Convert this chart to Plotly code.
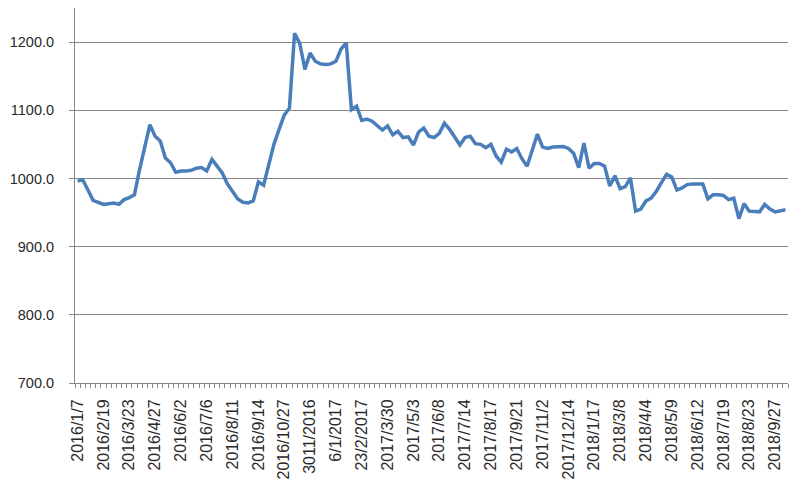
import plotly.graph_objects as go

# Weekly price series (138 points)
values = [
    996, 998, 983, 968, 965, 962, 963, 964, 962, 969,
    972, 976, 1013, 1047, 1079, 1062, 1055, 1030, 1023, 1009,
    1011, 1011, 1012, 1015, 1016, 1011, 1028, 1018, 1008, 992,
    982, 970, 965, 964, 967, 995, 990, 1022, 1050, 1072,
    1093, 1103, 1213, 1198, 1160, 1184, 1172, 1168, 1167, 1168,
    1172, 1190, 1199, 1101, 1106, 1085, 1087, 1084, 1078, 1071,
    1077, 1064, 1069, 1060, 1061, 1049, 1068, 1074, 1062, 1060,
    1066, 1081, 1072, 1061, 1049, 1060, 1062, 1051, 1050, 1045,
    1050, 1033, 1024, 1043, 1039, 1044, 1029, 1018, 1042, 1065,
    1046, 1044, 1046, 1047, 1047, 1044, 1037, 1016, 1052, 1015,
    1022, 1022, 1018, 989, 1004, 985, 988, 1001, 952, 955,
    967, 971, 981, 994, 1006, 1002, 983, 986, 991, 992,
    992, 992, 970, 976, 976, 975, 969, 971, 941, 963,
    952, 951, 951, 962, 955, 951, 953, 954,
]

# Tick labels shown every 5th point (as printed in the reference)
tick_labels = [
    "2016/1/7", "2016/2/19", "2016/3/23", "2016/4/27", "2016/6/2",
    "2016/7/6", "2016/8/11", "2016/9/14", "2016/10/27", "3011/2016",
    "6/1/2017", "23/2/2017", "2017/3/30", "2017/5/3", "2017/6/8",
    "2017/7/14", "2017/8/17", "2017/9/21", "2017/11/2", "2017/12/14",
    "2018/1/17", "2018/3/8", "2018/4/4", "2018/5/9", "2018/6/12",
    "2018/7/19", "2018/8/23", "2018/9/27",
]
label_step = 5

x_idx = list(range(len(values)))
tick_pos = [i * label_step for i in range(len(tick_labels))]

fig = go.Figure()
fig.add_trace(go.Scatter(
    x=x_idx, y=values, mode="lines",
    line=dict(color="#4a7ebb", width=3.5),
    hoverinfo="skip", showlegend=False,
))

axis_col = "#878787"
fig.update_layout(
    width=784, height=484,
    margin=dict(l=67, r=4, t=0, b=109),
    paper_bgcolor="white", plot_bgcolor="white",
    font=dict(family="Liberation Sans, Arial, sans-serif", color="#2a2a2a"),
    xaxis=dict(
        range=[-0.5, len(values) - 0.5],
        tickmode="array", tickvals=tick_pos, ticktext=tick_labels,
        tickangle=-90, tickfont=dict(size=16, color="#2a2a2a"),
        ticks="", ticklabelstandoff=9,
        showgrid=False, zeroline=False,
        showline=True, linecolor=axis_col, linewidth=1,
        minor=dict(ticks="outside", tick0=-0.5, dtick=1, ticklen=4,
                   tickcolor=axis_col, tickwidth=1, showgrid=False),
    ),
    yaxis=dict(
        range=[700, 1250],
        tickmode="linear", tick0=700, dtick=100, tickformat=".1f",
        tickfont=dict(size=14.5, color="#2a2a2a"),
        ticks="outside", ticklen=5, tickcolor=axis_col,
        ticklabelstandoff=12,
        showgrid=True, gridcolor=axis_col, gridwidth=1,
        zeroline=False,
        showline=True, linecolor=axis_col, linewidth=1,
    ),
)

fig.write_html("out.html")
